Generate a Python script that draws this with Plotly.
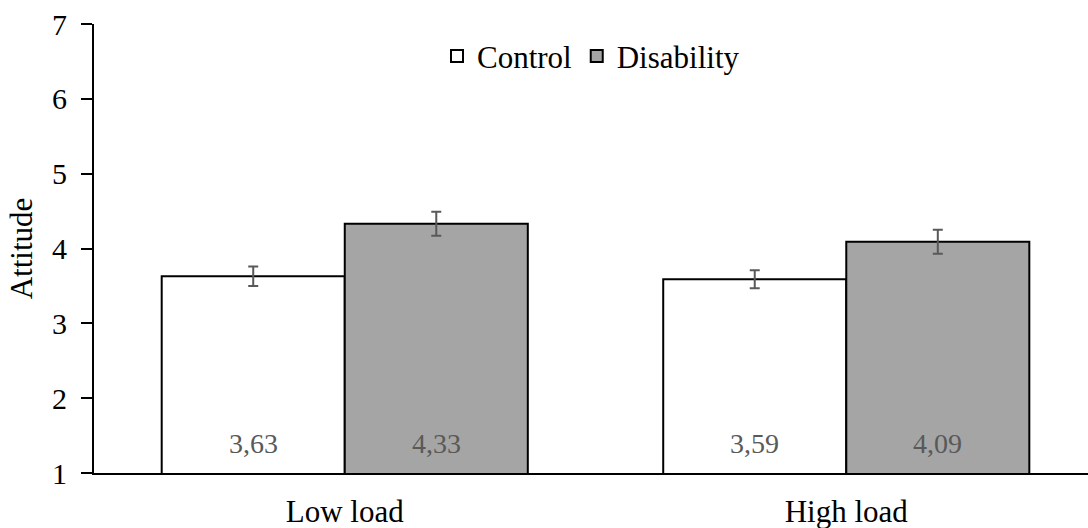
import plotly.graph_objects as go

# Data
loads = ["Low load", "High load"]
control_means = [3.63, 3.59]
control_err = [0.13, 0.12]
disability_means = [4.33, 4.09]
disability_err = [0.16, 0.16]

FONT = "Liberation Serif"
LABEL_GREY = "#595959"
AXIS_MIN = 1

fig = go.Figure()
fig.add_trace(go.Bar(
    name="Control", x=loads, y=control_means,
    marker=dict(color="white", line=dict(color="black", width=2)),
    error_y=dict(type="data", array=control_err, color=LABEL_GREY, thickness=2, width=5),
))
fig.add_trace(go.Bar(
    name="Disability", x=loads, y=disability_means,
    marker=dict(color="#a5a5a5", line=dict(color="black", width=2)),
    error_y=dict(type="data", array=disability_err, color=LABEL_GREY, thickness=2, width=5),
))

BARGAP = 0.27
half = (1 - BARGAP) / 4  # centre offset of each bar within a group
for i, (c, d) in enumerate(zip(control_means, disability_means)):
    for off, v in ((-half, c), (half, d)):
        fig.add_annotation(
            x=i + off, y=AXIS_MIN, xref="x", yref="y",
            text=f"{v:.2f}".replace(".", ","), showarrow=False,
            yanchor="bottom", yshift=12,
            font=dict(family=FONT, size=28, color=LABEL_GREY),
        )

fig.update_layout(
    width=1088, height=528,
    margin=dict(l=94, r=0, t=24, b=55),
    paper_bgcolor="white", plot_bgcolor="white",
    barmode="group", bargap=BARGAP, bargroupgap=0,
    font=dict(family=FONT, size=30, color="black"),
    showlegend=True,
    legend=dict(orientation="h", x=0.50, xanchor="center", y=0.928, yanchor="middle",
                font=dict(family=FONT, size=31, color="black"),
                bgcolor="rgba(0,0,0,0)"),
    xaxis=dict(range=[-0.5, 1.482], showline=True, linecolor="black", linewidth=2,
               ticks="", showgrid=False, tickfont=dict(family=FONT, size=31, color="black"),
               ticklabelstandoff=10),
    yaxis=dict(range=[AXIS_MIN, 7], dtick=1, showline=True, linecolor="black", linewidth=2,
               ticks="outside", ticklen=11, tickwidth=2, tickcolor="black",
               showgrid=False, zeroline=False,
               tickfont=dict(family=FONT, size=30, color="black"),
               ticklabelstandoff=8,
               title=dict(text="Attitude", font=dict(family=FONT, size=31, color="black"),
                          standoff=10)),
)

fig.write_html("out.html")
